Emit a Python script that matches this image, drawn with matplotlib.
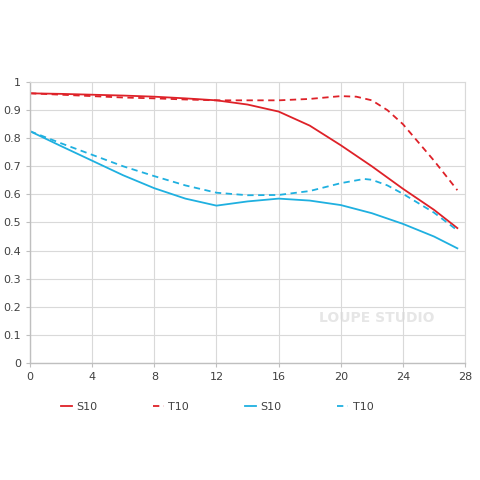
import matplotlib
matplotlib.use("Agg")
import matplotlib.pyplot as plt

# ---------- Data ----------
x_pts = [0, 2, 4, 6, 8, 10, 12, 14, 16, 18, 20, 22, 24, 26, 27.5]
red_s10 = [0.96, 0.958, 0.955, 0.952, 0.948, 0.942, 0.935, 0.92, 0.895, 0.845, 0.775, 0.70, 0.62, 0.545, 0.48]
blue_s10 = [0.825, 0.772, 0.72, 0.668, 0.622, 0.585, 0.56, 0.575, 0.585, 0.578, 0.562, 0.533, 0.495, 0.45, 0.408]

x_red_t = [0, 2, 4, 6, 8, 10, 12, 14, 16, 18, 20, 21, 22, 23, 24, 25, 26, 27.5]
red_t10 = [0.96, 0.955, 0.95, 0.945, 0.942, 0.938, 0.935, 0.935, 0.935, 0.94, 0.95, 0.948, 0.935, 0.90, 0.85, 0.785, 0.72, 0.615]

x_blue_t = [0, 2, 4, 6, 8, 10, 12, 14, 16, 18, 20, 21.5, 22, 23, 24, 26, 27.5]
blue_t10 = [0.825, 0.782, 0.741, 0.70, 0.665, 0.632, 0.606, 0.597, 0.598, 0.612, 0.64, 0.655, 0.652, 0.632, 0.602, 0.535, 0.472]

x_ticks = [0, 4, 8, 12, 16, 20, 24, 28]
y_ticks = [0, 0.1, 0.2, 0.3, 0.4, 0.5, 0.6, 0.7, 0.8, 0.9, 1]
y_labels = ["0", "0.1", "0.2", "0.3", "0.4", "0.5", "0.6", "0.7", "0.8", "0.9", "1"]

RED = "#de2128"
BLUE = "#1fb0e0"

# ---------- Plot ----------
fig = plt.figure(figsize=(4.8, 4.8), dpi=100)
ax = fig.add_axes([0.0625, 0.244, 0.9065, 0.585])

ax.plot(x_pts, red_s10, color=RED, lw=1.3, label="S10")
ax.plot(x_red_t, red_t10, color=RED, lw=1.3, ls=(0, (3.5, 2.5)), label="T10")
ax.plot(x_pts, blue_s10, color=BLUE, lw=1.3, label="S10")
ax.plot(x_blue_t, blue_t10, color=BLUE, lw=1.3, ls=(0, (3.5, 2.5)), label="T10")

ax.set_xlim(0, 28)
ax.set_ylim(0, 1)
ax.set_xticks(x_ticks)
ax.set_yticks(y_ticks)
ax.set_yticklabels(y_labels)
ax.grid(True, color="#d9d9d9", lw=0.8)
ax.set_axisbelow(True)
for side in ["top", "right"]:
    ax.spines[side].set_color("#d9d9d9")
for side in ["left", "bottom"]:
    ax.spines[side].set_color("#bfbfbf")
    ax.spines[side].set_linewidth(1.0)
ax.tick_params(axis="both", labelsize=8, colors="#bfbfbf", labelcolor="#404040", length=3, width=0.8)

# faint watermark
ax.text(22.3, 0.16, "LOUPE STUDIO", fontsize=10, color="#e6e6e6", ha="center", va="center",
        fontweight="bold", zorder=0)

fig.legend(loc="center", bbox_to_anchor=(0.452, 0.152), ncol=4, frameon=False,
           fontsize=8, handlelength=1.0, handletextpad=0.4, columnspacing=5.0,
           labelcolor="#404040")

fig.savefig("out.png", dpi=100)
